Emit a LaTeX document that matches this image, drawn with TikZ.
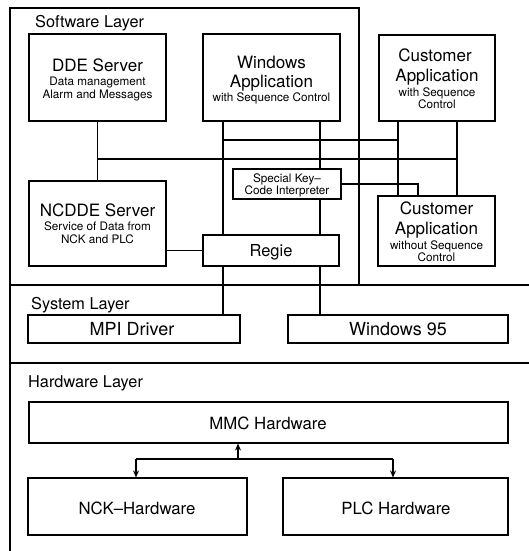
\documentclass[tikz,border=0pt]{standalone}
\usepackage{fontspec}
\setmainfont{TeX Gyre Heros}
\usetikzlibrary{arrows.meta,calc}
\begin{document}
\begin{tikzpicture}[x=1pt,y=-1pt,
  box/.style={draw, line width=1.1pt, inner sep=0pt, rectangle},
  wire/.style={line width=1.1pt},
  big/.style={inner sep=0pt, font=\fontsize{17}{20}\selectfont, text height=12.2pt, text depth=0pt},
  small/.style={inner sep=0pt, font=\fontsize{11.7}{14}\selectfont, text height=8.4pt, text depth=0pt},
  layer/.style={inner sep=0pt, anchor=west, font=\fontsize{16.3}{19}\selectfont, text height=11.7pt, text depth=0pt},
  sys/.style={inner sep=0pt, font=\fontsize{18}{21}\selectfont, text height=12.9pt, text depth=0pt},
  hw/.style={inner sep=0pt, font=\fontsize{16.8}{20}\selectfont, text height=12.1pt, text depth=0pt},
  tip/.style={-{Stealth[length=7pt,width=6pt]}}
]
\useasboundingbox (0,0) rectangle (529,551);

% layer frames
\coordinate (fTL) at (10,8);
\coordinate (fTR) at (359,8);
\coordinate (fSR) at (359,285);
\coordinate (fBL) at (10,551);
\coordinate (l1L) at (10,285);
\coordinate (l1R) at (529,285);
\coordinate (l2L) at (10,363);
\coordinate (l2R) at (529,363);
\draw[wire] (fBL) -- (fTL) -- (fTR) -- (fSR);
\draw[wire] (l1L) -- (l1R);
\draw[wire] (l2L) -- (l2R);

\node[layer] (swl) at (35,22) {Software Layer};
\node[layer] (syl) at (31,304) {System Layer};
\node[layer] (hwl) at (28,382) {Hardware Layer};

% boxes
\node[box, minimum width=137, minimum height=87] (dde) at (97.5,77.5) {};
\node[box, minimum width=137, minimum height=87] (win) at (271.5,77.5) {};
\node[box, minimum width=116, minimum height=86] (cust1) at (437,78) {};
\node[box, minimum width=137, minimum height=85] (ncdde) at (97.5,223.5) {};
\node[box, minimum width=108, minimum height=30] (skey) at (287,184) {};
\node[box, minimum width=136, minimum height=31] (regie) at (271,250.5) {};
\node[box, minimum width=117, minimum height=70] (cust2) at (436.5,231) {};
\node[box, minimum width=212, minimum height=28] (mpi) at (134,329) {};
\node[box, minimum width=220, minimum height=28] (w95) at (398,329) {};
\node[box, minimum width=479, minimum height=41] (mmc) at (268.5,422.5) {};
\node[box, minimum width=219, minimum height=57] (nck) at (137.5,506.5) {};
\node[box, minimum width=225, minimum height=57] (plc) at (395.5,506.5) {};

% texts
\node[big] (ddeT) at (97.5,65) {DDE Server};
\node[small] (ddeA) at (97.5,81) {Data management};
\node[small] (ddeB) at (97.5,94) {Alarm and Messages};

\node[big] (winT) at (271.5,62) {Windows};
\node[big] (winU) at (271.5,81) {Application};
\node[small] (winA) at (271.5,97.5) {with Sequence Control};

\node[big] (c1T) at (435,55) {Customer};
\node[big] (c1U) at (437,75) {Application};
\node[small] (c1A) at (437,92) {with Sequence};
\node[small] (c1B) at (437,104) {Control};

\node[big] (ncT) at (97.5,210) {NCDDE Server};
\node[small] (ncA) at (97.5,226.5) {Service of Data from};
\node[small] (ncB) at (97.5,239) {NCK and PLC};

\node[small] (skA) at (287,178) {Special Key–};
\node[small] (skB) at (287,190) {Code Interpreter};

\node[big, font=\fontsize{16.5}{20}\selectfont] (rgT) at (271,250.5) {Regie};

\node[big] (c2T) at (436.5,208) {Customer};
\node[big] (c2U) at (436.5,228) {Application};
\node[small] (c2A) at (436.5,245) {without Sequence};
\node[small] (c2B) at (436.5,257) {Control};

\node[sys] (mpiT) at (132,329) {MPI Driver};
\node[sys] (w95T) at (398,329) {Windows 95};

\node[hw] (mmcT) at (268,423) {MMC Hardware};
\node[hw] (nckT) at (137,508) {NCK–Hardware};
\node[hw] (plcT) at (396,508) {PLC Hardware};

% connectors
\coordinate (xA) at (223,0);
\coordinate (xB) at (320,0);
\coordinate (xC) at (398,0);
\coordinate (xD) at (457,0);
\coordinate (xE) at (418,0);
\coordinate (b1) at (98,159);
\coordinate (b2) at (457,159);
\coordinate (c1) at (223,140);
\coordinate (c2) at (398,140);
\coordinate (sk) at (418,184);

\draw[wire] (dde.south) -- (ncdde.north);
\draw[wire] (b1) -- (b2);
\draw[wire] (c1) -- (c2);
\draw[wire] (win.south -| xA) -- (regie.north -| xA);
\draw[wire] (regie.south -| xA) -- (mpi.north -| xA);
\draw[wire] (win.south -| xB) -- (skey.north -| xB);
\draw[wire] (skey.south -| xB) -- (regie.north -| xB);
\draw[wire] (regie.south -| xB) -- (w95.north -| xB);
\draw[wire] (cust1.south -| xC) -- (cust2.north -| xC);
\draw[wire] (cust1.south -| xD) -- (cust2.north -| xD);
\draw[wire] (skey.east) -- (sk) -- (cust2.north -| xE);
\draw[wire] (regie.west -| ncdde.east) -- (regie.west);

% hardware bus
\coordinate (hb) at (238,459);
\coordinate (hl) at (136,459);
\coordinate (hr) at (393,459);
\draw[wire] (hl) -- (hr);
\draw[wire, tip] (hb) -- (mmc.south -| hb);
\draw[wire, tip] (hl) -- (nck.north -| hl);
\draw[wire, tip] (hr) -- (plc.north -| hr);
\end{tikzpicture}
\end{document}
